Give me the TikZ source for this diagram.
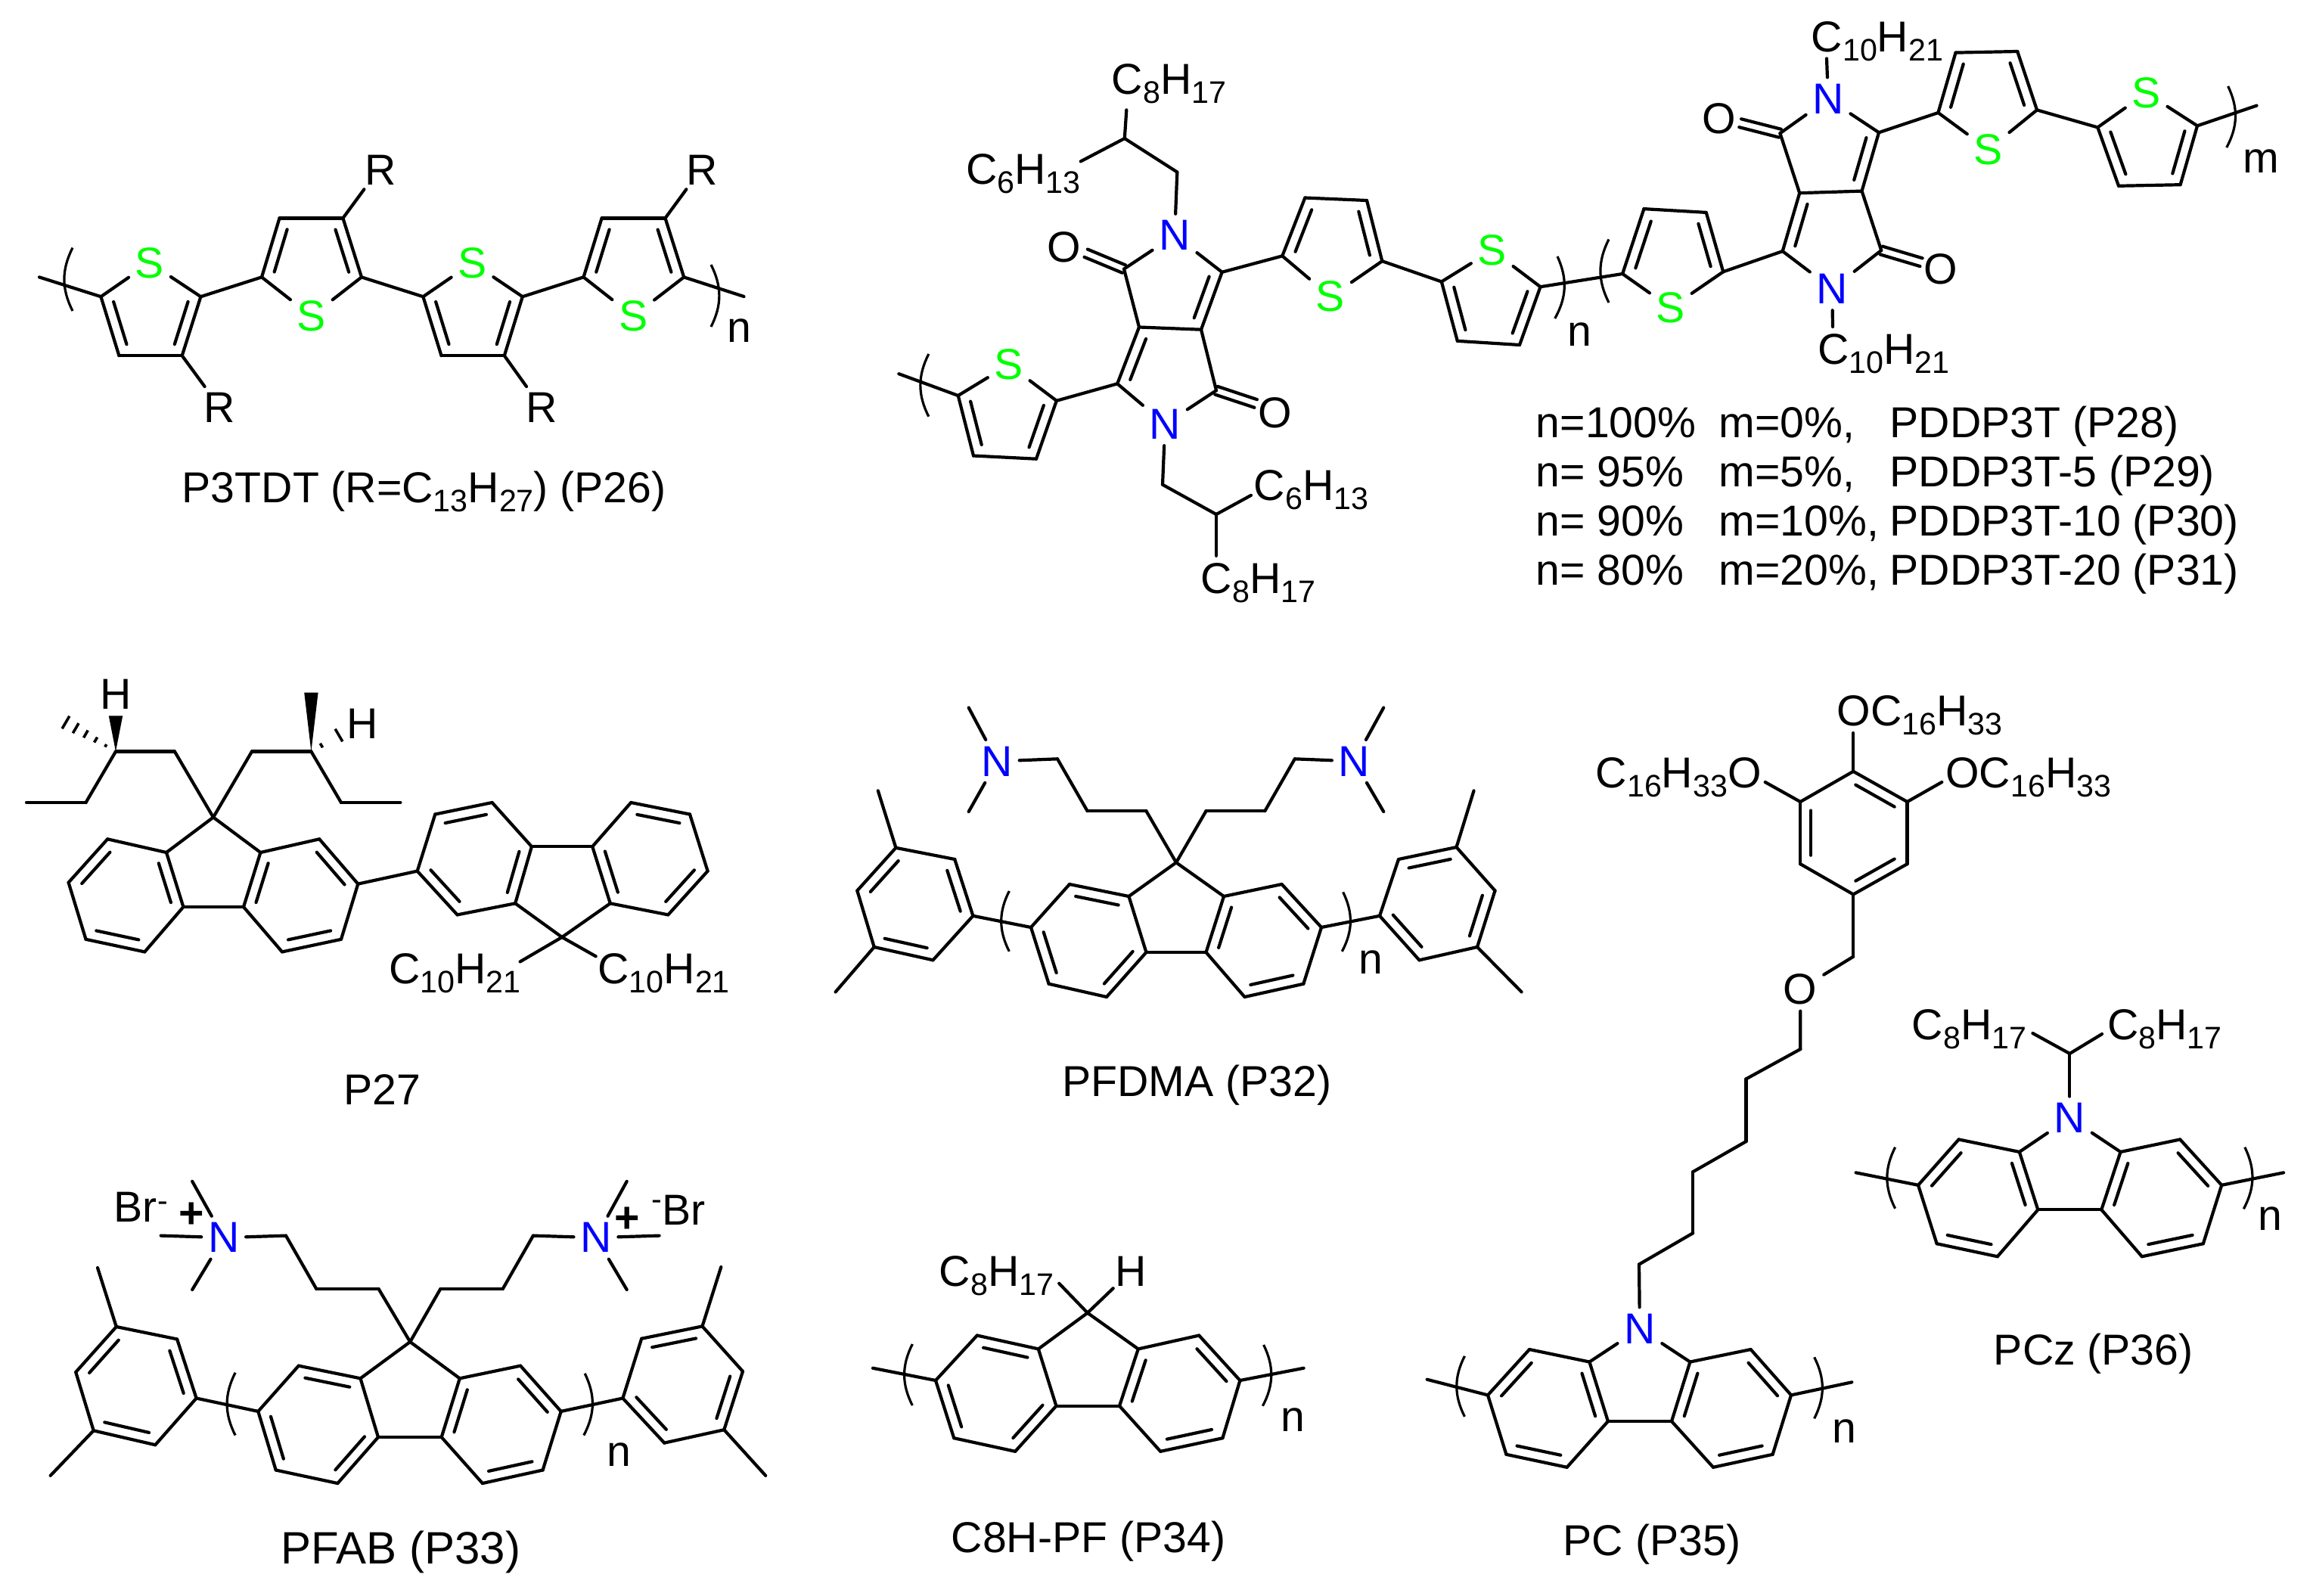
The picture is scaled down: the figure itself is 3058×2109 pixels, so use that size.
\documentclass[tikz,border=0pt]{standalone}
\usepackage{fontspec}
\setmainfont{Liberation Sans}
\usetikzlibrary{calc}
\definecolor{sgreen}{RGB}{0,255,0}
\definecolor{nblue}{RGB}{0,0,255}
\newcommand{\sbs}[1]{\raisebox{-3pt}{\fontsize{10.3}{12}\selectfont #1}}
\newcommand{\sps}[2]{\raisebox{#1}{\fontsize{10.3}{12}\selectfont #2}}
\begin{document}
\begin{tikzpicture}
[x=0.25pt,y=-0.25pt,
  linedecorate/.style={-,line width=1.05pt,line cap=round},
  bracketdecorate/.style={-,line width=0.8pt},
  hashdecorate/.style={-,line width=0.9pt},
  atomdecorate/.style={inner sep=2pt,font=\fontsize{14.3}{16}\selectfont},
  labeldecorate/.style={inner sep=0pt,anchor=base west,font=\fontsize{14.3}{16}\selectfont}]
\useasboundingbox (0,0) rectangle (3058,2109);
%% carbons and free bond ends
\foreach \nodename/\x/\y in {
  a1/133.4/392.2, a2/157.4/470.2, a3/240.7/470.2, a4/265.4/392.2,
  a5/346/366.4, a6/369.5/288.4, a7/453.4/288.4, a8/478/366.4,
  a9/559.4/392.2, a10/583.5/470.2, a11/666.8/470.2, a12/690.8/392.2,
  a13/771.5/366.4, a14/795.6/288.4, a15/879.5/288.4, a16/904.2/366.4,
  a17/52/366.4, a18/983.5/392, a19/481.4/250.3, a20/907.4/250.3, a21/270.6/511, a22/696/511,
  b1/1486/355.6, b2/1506/432.5, b3/1588/435.7, b4/1615.6/359.8, b5/1477.2/507.3, b6/1608/516.2,
  b7/1556.3/227.5, b8/1486.8/183, b9/1489.3/145.4, b10/1428.7/213.4,
  b11/1537/640.7, b12/1608/680, b13/1654/654.8, b14/1608/734.8,
  b15/1695.3/338.4, b16/1725.3/261.5, b17/1807/265, b18/1827.3/345.2,
  b19/1905.8/372.4, b20/1926.8/450.8, b21/2009/456, b22/2036.5/379.2,
  b23/1396.8/529.8, b24/1370/606.7, b25/1287/602.5, b26/1266.7/523, b27/1188.3/494.2,
  b28/1435.7/334.7, b29/1660.2/533.5,
  c1/2145.1/362, c2/2173.4/276.1, c3/2255.7/280.9, c4/2278.2/359.3,
  c5/2356.7/332.1, c6/2379.2/255.2, c7/2461.5/252.6, c8/2484/175.2, c9/2353.4/176.2, c10/2487.2/331,
  c11/2562.4/149, c12/2585.5/69.6, c13/2667.2/68, c14/2693/145.4,
  c15/2773.3/168.4, c16/2801/245.8, c17/2882.6/244.2, c18/2905/166.3, c19/2983.5/139.6,
  c20/2415/77.4, c21/2423/432, c22/2300.7/162.7, c23/2540/346.7,
  d1/282/1080.5, d2/230.9/993.5, d3/153/993.5, d4/113.5/1061, d5/35/1061,
  d6/333/993.5, d7/411.4/993.5, d8/451/1061, d9/529.4/1061,
  d10/220/1127, d11/242.4/1199, d12/322/1199, d13/344.4/1127, d14/142.2/1109.3, d15/90.6/1166.7,
  d16/113.5/1241.8, d17/191.3/1258.4, d18/422.2/1109.3, d19/473.3/1168.6, d20/451/1241.8, d21/373/1258.4,
  d22/153/946.4, d23/411.4/915.6, d24/87/955, d25/448/972,
  e1/551.7/1151.6, e2/575.3/1076.5, e3/650.6/1061, e4/702.9/1119.2, e5/783.2/1119.2, e6/834.2/1061,
  e7/912/1076.5, e8/935.6/1151.6, e9/883.3/1209.4, e10/806.8/1194.3, e11/681.2/1194.3, e12/604.6/1209.4,
  e13/743/1239, e14/687.6/1271.4, e15/787.7/1264.3,
  f1/1555/1140.3, f2/1515.4/1072.2, f3/1437.6/1072.2, f4/1398/1003.3, f5/1280.7/935.6, f6/1280.7/1073,
  f7/1594.5/1072.2, f8/1672.3/1072.2, f9/1711.8/1003.3, f10/1829.2/935.6, f11/1829.2/1073,
  f12/1492.4/1185, f13/1515.4/1259, f14/1594.5/1259, f15/1618/1185, f16/1414/1169, f17/1363/1226,
  f18/1386.6/1300.7, f19/1463/1318, f20/1694.6/1169, f21/1747/1226, f22/1723.3/1300.7, f23/1645.5/1318,
  f24/1286.4/1210.8, f25/1262.2/1136, f26/1184.4/1120.8, f27/1133.3/1177.5, f28/1155.7/1252, f29/1233.5/1269.3,
  f30/1160.8/1045.4, f31/1104.6/1311.4,
  f32/1824/1210.8, f33/1849/1136, f34/1925.5/1120, f35/1976.5/1177.5, f36/1953/1252, f37/1876.4/1269.3,
  f38/1948.5/1045.4, f39/2011.6/1311.4,
  g1/542.2/1774, g2/500.6/1704, g3/418.3/1704, g4/378/1633.6, g5/212.7/1633.6, g6/254.2/1561.8, g7/254.2/1705,
  g8/582.3/1704, g9/664.7/1704, g10/704.9/1633.6, g11/871.6/1633.6, g12/828.7/1561.8, g13/828.7/1705,
  g14/476.5/1822.3, g15/500/1900, g16/583.7/1900, g17/607.8/1822.3, g18/394.8/1805.6, g19/341.3/1865.9,
  g20/364.7/1943.5, g21/446.4/1961, g22/688.1/1805.6, g23/741.7/1865.9, g24/717.6/1943.5, g25/637.9/1961,
  g26/259.6/1848.5, g27/234.1/1770.4, g28/153.8/1754, g29/100.2/1814, g30/123.7/1891.3, g31/205.3/1910.2,
  g32/129/1676, g33/66.7/1950.8,
  g34/823.4/1848.5, g35/848.2/1769.7, g36/928.5/1753.4, g37/982/1813, g38/957.3/1890.2, g39/878.3/1907.6,
  g40/953.3/1675, g41/1012.2/1950.8,
  h1/1437.8/1735.7, h2/1400.2/1696.7, h3/1471.7/1703.2, h4/1372.8/1783.4, h5/1396.4/1858.7, h6/1480/1858.7,
  h7/1504.8/1783.4, h8/1291.8/1765.5, h9/1237/1825, h10/1261.2/1901.2, h11/1342.2/1918.8,
  h12/1585.2/1765.5, h13/1639.4/1825, h14/1616.4/1901.2, h15/1534.2/1918.8, h16/1154/1808.7, h17/1723.6/1808.7,
  k1/2450.2/1019.8, k2/2521.5/1060, k3/2521.5/1142.2, k4/2450.2/1182.4, k5/2380.2/1142.2, k6/2380.2/1060,
  k7/2450.2/969, k8/2567.3/1034, k9/2333.7/1034, k10/2450.2/1264.7,
  k11/2380.3/1387, k12/2308.5/1426.4, k13/2308.5/1509, k14/2238.2/1549.2, k15/2238.2/1630.2, k16/2167/1671.5,
  k17/2101.4/1800.5, k18/2234.4/1800.5, k19/2022/1784, k20/1967/1844.4, k21/1991.4/1922.8, k22/2071.6/1939.8,
  k23/2125.9/1879, k24/2210/1879, k25/2265/1939.8, k26/2343.6/1922.8, k27/2368/1844.4, k28/2314.6/1784,
  k29/1886.7/1823.7, k30/2448.3/1827.3,
  m1/2736.3/1392.9, m2/2687.4/1366, m3/2779/1367, m4/2669.8/1522.9, m5/2803.5/1522.9, m6/2589.6/1506.4,
  m7/2536/1566.8, m8/2560.6/1644.2, m9/2640.8/1661.2, m10/2694.3/1599.3, m11/2778.3/1599.3, m12/2831.8/1661.2,
  m13/2912.8/1644.2, m14/2937.2/1566.8, m15/2882.2/1506.4, m16/2453.6/1550.3, m17/3019/1550.3,
  ab1/96/327.6, ab2/96/411, ab3/940/350, ab4/940/432,
  bb1/1227.8/468, bb2/1227.8/550.7, bb3/2059/339, bb4/2055.7/421,
  cb1/2127/316.4, cb2/2127/400, cb3/2945.6/114, cb4/2943.7/195,
  fb1/1334.3/1178, fb2/1334.3/1257.8, fb3/1775.6/1179.4, fb4/1774.3/1257.8,
  gb1/311.1/1814.7, gb2/311.1/1897.5, gb3/773.2/1815.8, gb4/771.8/1897.5,
  hb1/1206.3/1777, hb2/1206.3/1858, hb3/1670.6/1778, hb4/1669.4/1858.7,
  kb1/1936.4/1792.8, kb2/1936.4/1872.8, kb3/2398.6/1794.3, kb4/2398.6/1875.3,
  mb1/2505.6/1516.7, mb2/2505.6/1597.7, mb3/2967.8/1516.7, mb4/2966.3/1598.2}
{
  \coordinate (\nodename) at (\x,\y);
}
%% hetero atoms
\foreach \nodename/\x/\y/\atomcolor/\atomname in {
  as/198/347.5/sgreen/S, bs/411.8/418/sgreen/S, cs/624.5/347.5/sgreen/S, ds/837.2/418/sgreen/S,
  bn1/1553/311.2/nblue/N, bn2/1540.3/560.7/nblue/N, bo1/1406.4/326.9/black/O, bo2/1685.7/545.5/black/O,
  bs1/1759/392.3/sgreen/S, bs2/1972.7/331/sgreen/S, bs3/1333.7/482.2/sgreen/S,
  cn1/2417/130.8/nblue/N, cn2/2422.2/381.8/nblue/N, co1/2272.4/156.9/black/O, co2/2565.6/355.6/black/O,
  cs1/2208.8/407/sgreen/S, cs2/2628.6/197.7/sgreen/S, cs3/2837.6/122.9/sgreen/S,
  fn1/1318.3/1006.4/nblue/N, fn2/1790.3/1006.4/nblue/N,
  gn1/295.7/1636.2/nblue/N, gn2/787.9/1636.2/nblue/N,
  kn/2167.9/1756.7/nblue/N, ko/2380.2/1307.6/black/O, mn/2736.3/1478/nblue/N,
  gp1/253/1607/black/\bfseries +, gp2/828.7/1612.6/black/\bfseries +}
{
  \node (\nodename) at (\x,\y) [atomdecorate,text=\atomcolor] {\atomname};
}
%% texts
\foreach \labelname/\x/\y/\labeltext in {
  ra1/482/244.7/R, ra2/906.3/244.7/R, ra3/268.8/558/R, ra4/695/558/R, na/960.5/452/n,
  ta/240/664/{P3TDT (R=C\sbs{13}H\sbs{27}) (P26)},
  lb1/1469/124/{C\sbs{8}H\sbs{17}}, lb2/1276.5/243/{C\sbs{6}H\sbs{13}},
  lb3/1657/661.6/{C\sbs{6}H\sbs{13}}, lb4/1587/784.5/{C\sbs{8}H\sbs{17}}, nb/2072/457.6/n,
  lc1/2394/68/{C\sbs{10}H\sbs{21}}, lc2/2402.5/481/{C\sbs{10}H\sbs{21}}, mc/2964.5/228.5/m,
  r1a/2030/578/{n=100\%}, r1b/2272/578/{m=0\%,}, r1c/2498/578/{PDDP3T (P28)},
  r2a/2030/643/{n= 95\%}, r2b/2272/643/{m=5\%,}, r2c/2498/643/{PDDP3T-5 (P29)},
  r3a/2030/708.7/{n= 90\%}, r3b/2272/708.7/{m=10\%,}, r3c/2498/708.7/{PDDP3T-10 (P30)},
  r4a/2030/773/{n= 80\%}, r4b/2272/773/{m=20\%,}, r4c/2498/773/{PDDP3T-20 (P31)},
  ld1/132/937.3/H, ld2/458/976/H, le1/513.6/1300/{C\sbs{10}H\sbs{21}}, le2/789.8/1300/{C\sbs{10}H\sbs{21}},
  te/454/1460.5/P27,
  nf/1796/1287.3/n, tf/1403.4/1449/{PFDMA (P32)},
  lg1/150/1615/{Br\sps{3.5pt}{-}}, lg2/861/1619/{\sps{5pt}{-}Br}, ng/801.5/1938/n,
  tg/370.6/2067/{\fontsize{15}{16}\selectfont PFAB (P33)},
  lh1/1241/1700.6/{C\sbs{8}H\sbs{17}}, lh2/1474/1700.6/H, nh/1692.4/1892/n, th/1257/2052.8/{C8H-PF (P34)},
  lk1/2428/959.3/{OC\sbs{16}H\sbs{33}}, lk2/2571.6/1041.6/{OC\sbs{16}H\sbs{33}}, lk3/2109/1041.6/{C\sbs{16}H\sbs{33}O},
  nk/2421.7/1907.9/n, tk/2066/2056/{PC (P35)},
  lm1/2527/1374.8/{C\sbs{8}H\sbs{17}}, lm2/2785.3/1374.8/{C\sbs{8}H\sbs{17}}, nm/2985/1626/n, tm/2635/1804.6/{PCz (P36)}}
{
  \node (\labelname) at (\x,\y) [labeldecorate] {\labeltext};
}
%% bonds
\path
\foreach \startnode/\endnode in {
  a17/a1, a1/a2, a2/a3, a3/a4, a4/as, as/a1, a4/a5, a5/a6, a6/a7, a7/a8, a8/bs, bs/a5, a8/a9, a9/a10, a10/a11,
  a11/a12, a12/cs, cs/a9, a12/a13, a13/a14, a14/a15, a15/a16, a16/ds, ds/a13, a16/a18, a7/a19, a15/a20, a3/a21, a11/a22,
  b1/bn1, bn1/b4, b4/b3, b3/b2, b2/b1, b2/b5, b5/bn2, bn2/b6, b6/b3, bn1/b7, b7/b8, b8/b9, b8/b10, bn2/b11, b11/b12,
  b12/b13, b12/b14, b4/b15, b15/b16, b16/b17, b17/b18, b18/bs1, bs1/b15, b18/b19, b19/b20, b20/b21, b21/b22, b22/bs2,
  bs2/b19, b5/b23, b23/b24, b24/b25, b25/b26, b26/bs3, bs3/b23, b26/b27, b22/c1,
  c1/c2, c2/c3, c3/c4, c4/cs1, cs1/c1, c4/c5, c5/c6, c6/c7, c7/c8, c8/cn1, cn1/c9, c9/c6, c5/cn2, cn2/c10, c10/c7,
  cn1/c20, cn2/c21, c8/c11, c11/c12, c12/c13, c13/c14, c14/cs2, cs2/c11, c14/c15, c15/c16, c16/c17, c17/c18, c18/cs3,
  cs3/c15, c18/c19,
  d1/d2, d2/d3, d3/d4, d4/d5, d1/d6, d6/d7, d7/d8, d8/d9, d1/d10, d1/d13, d10/d11, d11/d12, d12/d13, d10/d14, d14/d15,
  d15/d16, d16/d17, d17/d11, d13/d18, d18/d19, d19/d20, d20/d21, d21/d12, d19/e1, e1/e2, e2/e3, e3/e4, e4/e11, e11/e12,
  e12/e1, e4/e5, e5/e6, e6/e7, e7/e8, e8/e9, e9/e10, e10/e5, e10/e13, e11/e13, e13/e14, e13/e15,
  f1/f2, f2/f3, f3/f4, f4/fn1, fn1/f5, fn1/f6, f1/f7, f7/f8, f8/f9, f9/fn2, fn2/f10, fn2/f11, f1/f12, f1/f15, f12/f13,
  f13/f14, f14/f15, f12/f16, f16/f17, f17/f18, f18/f19, f19/f13, f15/f20, f20/f21, f21/f22, f22/f23, f23/f14, f17/f24,
  f24/f25, f25/f26, f26/f27, f27/f28, f28/f29, f29/f24, f26/f30, f28/f31, f21/f32, f32/f33, f33/f34, f34/f35, f35/f36,
  f36/f37, f37/f32, f34/f38, f36/f39,
  g1/g2, g2/g3, g3/g4, g4/gn1, gn1/g5, gn1/g6, gn1/g7, g1/g8, g8/g9, g9/g10, g10/gn2, gn2/g11, gn2/g12, gn2/g13,
  g1/g14, g1/g17, g14/g15, g15/g16, g16/g17, g14/g18, g18/g19, g19/g20, g20/g21, g21/g15, g17/g22, g22/g23, g23/g24,
  g24/g25, g25/g16, g19/g26, g26/g27, g27/g28, g28/g29, g29/g30, g30/g31, g31/g26, g28/g32, g30/g33, g23/g34, g34/g35,
  g35/g36, g36/g37, g37/g38, g38/g39, g39/g34, g36/g40, g38/g41,
  h1/h2, h1/h3, h1/h4, h1/h7, h4/h5, h5/h6, h6/h7, h4/h8, h8/h9, h9/h10, h10/h11, h11/h5, h7/h12, h12/h13, h13/h14,
  h14/h15, h15/h6, h16/h9, h13/h17,
  k1/k2, k2/k3, k3/k4, k4/k5, k5/k6, k6/k1, k1/k7, k2/k8, k6/k9, k4/k10, k10/ko, ko/k11, k11/k12, k12/k13, k13/k14,
  k14/k15, k15/k16, k16/kn, kn/k17, kn/k18, k17/k19, k19/k20, k20/k21, k21/k22, k22/k23, k23/k17, k23/k24, k24/k18,
  k18/k28, k28/k27, k27/k26, k26/k25, k25/k24, k29/k20, k27/k30,
  m1/m2, m1/m3, m1/mn, mn/m4, mn/m5, m4/m6, m6/m7, m7/m8, m8/m9, m9/m10, m10/m4, m10/m11, m11/m5, m5/m15, m15/m14,
  m14/m13, m13/m12, m12/m11, m16/m7, m14/m17}
{
  (\startnode) edge[linedecorate] (\endnode)
};
%% inner lines of double bonds, ring on the left of start to end
\foreach \startnode/\endnode in {
  a1/a2, a3/a4, a6/a5, a8/a7, a9/a10, a11/a12, a14/a13, a16/a15,
  b3/b4, b2/b5, b16/b15, b18/b17, b19/b20, b21/b22, b26/b25, b24/b23,
  c2/c1, c4/c3, c6/c5, c7/c8, c12/c11, c14/c13, c15/c16, c17/c18,
  d14/d15, d16/d17, d11/d10, d13/d12, d21/d20, d19/d18, e3/e2, e1/e12, e11/e4, e7/e6, e9/e8, e5/e10,
  f12/f16, f17/f18, f19/f13, f15/f14, f21/f20, f23/f22, f24/f25, f26/f27, f28/f29, f34/f33, f36/f35, f32/f37,
  g14/g18, g19/g20, g21/g15, g17/g16, g23/g22, g25/g24, g26/g27, g28/g29, g30/g31, g36/g35, g38/g37, g34/g39,
  h4/h8, h9/h10, h11/h5, h7/h6, h13/h12, h15/h14,
  k2/k1, k6/k5, k4/k3, k19/k20, k21/k22, k23/k17, k18/k24, k25/k26, k27/k28,
  m6/m7, m8/m9, m10/m4, m5/m11, m12/m13, m14/m15}
{
  \draw[linedecorate] ($(\startnode)!.14!(\endnode)!3.5pt!90:(\endnode)$)
    -- ($(\endnode)!.14!(\startnode)!3.5pt!-90:(\startnode)$);
}
%% carbonyls
\foreach \startnode/\endnode in {b1/b28, b6/b29, c9/c22, c10/c23}
{
  \draw[linedecorate] ($(\startnode)!1.4pt!90:(\endnode)$) -- ($(\endnode)!1.4pt!-90:(\startnode)$);
  \draw[linedecorate] ($(\startnode)!1.4pt!-90:(\endnode)$) -- ($(\endnode)!1.4pt!90:(\startnode)$);
}
%% wedges and hashes
\foreach \startnode/\endnode in {d3/d22, d7/d23}
{
  \fill (\startnode) -- ($(\endnode)!2.3pt!90:(\startnode)$) -- ($(\endnode)!2.3pt!-90:(\startnode)$) -- cycle;
}
\foreach \startnode/\endnode/\f/\halflen in {d3/d24/0.2/0.5pt, d3/d24/0.4/1pt, d3/d24/0.6/1.4pt, d3/d24/0.8/1.9pt, d3/d24/1/2.4pt,
  d7/d25/0.37/0.8pt, d7/d25/1/2.4pt}
{
  \draw[hashdecorate] ($(\startnode)!\f!(\endnode)!\halflen!90:(\startnode)$)
    -- ($(\startnode)!\f!(\endnode)!\halflen!-90:(\startnode)$);
}
%% brackets
\path
\foreach \startnode/\endnode in {ab1/ab2, bb1/bb2, cb1/cb2, fb1/fb2, gb1/gb2, hb1/hb2, kb1/kb2, mb1/mb2}
{
  (\startnode) edge[bracketdecorate,bend right=27] (\endnode)
};
\path
\foreach \startnode/\endnode in {ab3/ab4, bb3/bb4, cb3/cb4, fb3/fb4, gb3/gb4, hb3/hb4, kb3/kb4, mb3/mb4}
{
  (\startnode) edge[bracketdecorate,bend left=27] (\endnode)
};
\end{tikzpicture}
\end{document}
